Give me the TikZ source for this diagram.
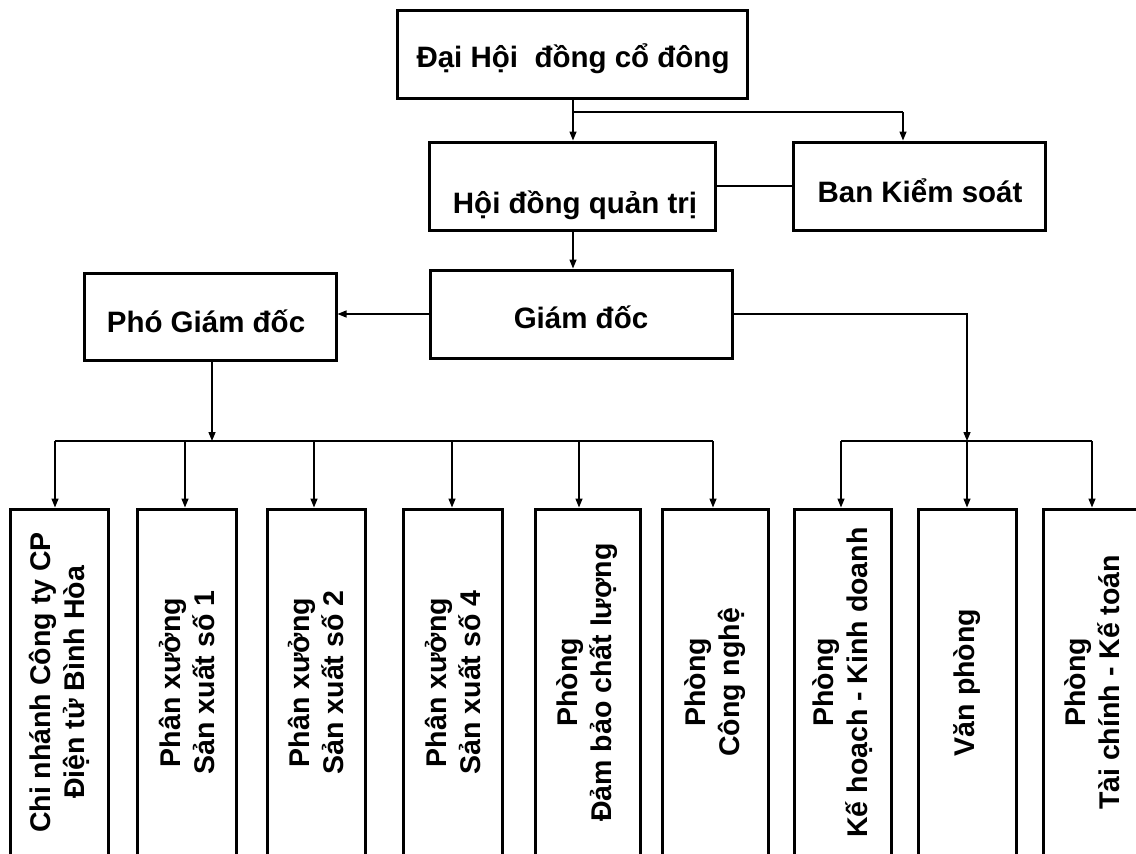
\documentclass[tikz,border=0pt]{standalone}
\usepackage{fontspec}
\setmainfont{Liberation Sans}
\usetikzlibrary{arrows.meta}
\begin{document}
\begin{tikzpicture}[x=1pt,y=-1pt,
  box/.style={draw=black,line width=3pt,fill=white,inner sep=0pt},
  lbl/.style={font=\fontsize{29.5}{34}\selectfont\bfseries,inner sep=0pt,anchor=base},
  vbox/.style={draw=black,line width=3pt,fill=white,inner sep=0pt,rotate=90,
    align=center,font=\fontsize{28.5}{34}\selectfont\bfseries,minimum width=347pt},
  conn/.style={line width=1.4pt,draw=black},
  arr/.style={conn,-{Triangle[length=9pt,width=7pt]}}]
\useasboundingbox (0,0) rectangle (1136,854);
\fill[white] (0,0) rectangle (1136,854);
\clip (0,0) rectangle (1136,854);

% top level boxes
\node[box,minimum width=350pt,minimum height=88pt] (dhd) at (572,54) {};
\node[lbl] (dhdT) at (573,67) {Đại Hội~ đồng cổ đông};
\node[box,minimum width=286pt,minimum height=88pt] (hdqt) at (572,186) {};
\node[lbl] (hdqtT) at (575,213) {Hội đồng quản trị};
\node[box,minimum width=252pt,minimum height=88pt] (bks) at (919,186) {};
\node[lbl] (bksT) at (920,202) {Ban Kiểm soát};
\node[box,minimum width=302pt,minimum height=88pt] (gd) at (581,314) {};
\node[lbl] (gdT) at (581,328) {Giám đốc};
\node[box,minimum width=252pt,minimum height=87pt] (pgd) at (210,316.5) {};
\node[lbl] (pgdT) at (206,332) {Phó Giám đốc};

% bottom boxes
\node[vbox,minimum height=98pt] (b1) at (59,682.5) {Chi nhánh Công ty CP\\Điện tử Bình Hòa};
\node[vbox,minimum height=99pt] (b2) at (186.5,682.5) {Phân xưởng\\Sản xuất số 1};
\node[vbox,minimum height=98pt] (b3) at (316,682.5) {Phân xưởng\\Sản xuất số 2};
\node[vbox,minimum height=99pt] (b4) at (453,682.5) {Phân xưởng\\Sản xuất số 4};
\node[vbox,minimum height=105pt] (b5) at (587.5,682.5) {Phòng\\Đảm bảo chất lượng};
\node[vbox,minimum height=106pt] (b6) at (715,682.5) {Phòng\\Công nghệ};
\node[vbox,minimum height=97pt] (b7) at (842.5,682.5) {Phòng\\Kế hoạch - Kinh doanh};
\node[vbox,minimum height=98pt] (b8) at (967,682.5) {Văn phòng};
\node[vbox,minimum height=98pt] (b9) at (1092,682.5) {Phòng\\Tài chính - Kế toán};

% connectors top
\coordinate (j1) at (573,112);
\coordinate (j2) at (903,112);
\draw[arr] (dhd.south -| j1) -- (hdqt.north -| j1);
\draw[conn] (j1) -- (j2);
\draw[arr] (j2) -- (j2 |- bks.north);
\draw[conn] (hdqt.east) -- (bks.west);
\draw[arr] (hdqt.south -| j1) -- (gd.north -| j1);
\draw[arr] (gd.west) -- (gd.west -| pgd.east);

% left bus
\coordinate (jL) at (212,441);
\draw[arr] (pgd.south -| jL) -- (jL);
\coordinate (L1) at (55,441);
\coordinate (L2) at (185,441);
\coordinate (L3) at (314,441);
\coordinate (L4) at (452,441);
\coordinate (L5) at (579,441);
\coordinate (L6) at (713,441);
\draw[conn] (L1) -- (L6);
\draw[arr] (L1) -- (L1 |- b1.east);
\draw[arr] (L2) -- (L2 |- b2.east);
\draw[arr] (L3) -- (L3 |- b3.east);
\draw[arr] (L4) -- (L4 |- b4.east);
\draw[arr] (L5) -- (L5 |- b5.east);
\draw[arr] (L6) -- (L6 |- b6.east);

% right bus
\coordinate (jR) at (967,441);
\coordinate (R1) at (841,441);
\coordinate (R3) at (1092,441);
\draw[arr] (gd.east) -| (jR);
\draw[conn] (R1) -- (R3);
\draw[arr] (R1) -- (R1 |- b7.east);
\draw[arr] (jR) -- (jR |- b8.east);
\draw[arr] (R3) -- (R3 |- b9.east);
\end{tikzpicture}
\end{document}
